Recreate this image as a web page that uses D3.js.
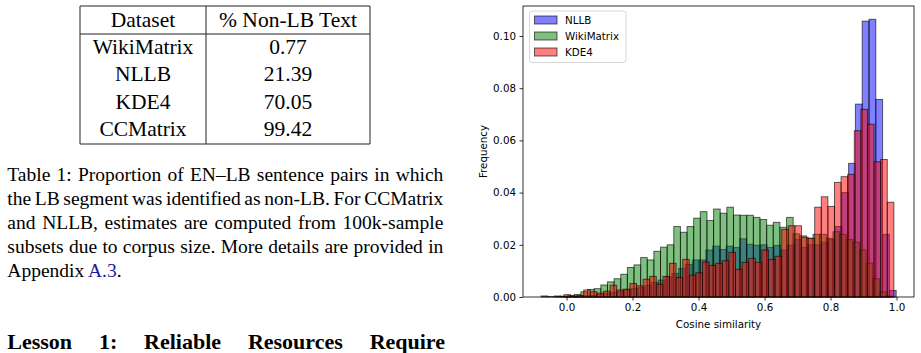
<!DOCTYPE html>
<meta charset="utf-8">
<style>
body{margin:0;background:#fff;}
svg{display:block;}
.serif{font-family:"Liberation Serif","Times New Roman",serif;fill:#000;}
.cap{font-size:19.5px;}
.cell{font-size:21.5px;text-anchor:middle;}
.head{font-size:22px;font-weight:bold;}
.grid line{stroke:#222;stroke-width:1px;}
.axis text{font-family:"DejaVu Sans";font-size:10.3px;fill:#000;}
.axis path{display:none;}
.axis line{stroke:#000;stroke-width:0.8px;}
.lbl{font-family:"DejaVu Sans";font-size:10.3px;fill:#000;}
.bars rect{stroke:#000;stroke-opacity:0.6;stroke-width:1px;fill-opacity:0.5;}
</style>
<body>
<script src="https://d3js.org/d3.v7.min.js"></script>
<script>

// table
var tableHeader=["Dataset","% Non-LB Text"];
var tableDatasets=["WikiMatrix","NLLB","KDE4","CCMatrix"];
var tableNonLB=["0.77","21.39","70.05","99.42"];

// caption + heading
var captionLines=[
 "Table 1: Proportion of EN–LB sentence pairs in which",
 "the LB segment was identified as non-LB. For CCMatrix",
 "and NLLB, estimates are computed from 100k-sample",
 "subsets due to corpus size. More details are provided in"
];
var captionLast=["Appendix ","A.3","."];
var heading="Lesson 1: Reliable Resources Require";

// histogram (relative frequency per bin)
var seriesNames=["NLLB","WikiMatrix","KDE4"];
var nllbBinStart=-0.031, nllbBinWidth=0.0206;
var nllbFreq=[0.0001,0.0001,0.0002,0.0003,0.0005,0.0007,0.0010,0.0014,0.0018,0.0022,
 0.0028,0.0033,0.0036,0.0045,0.0056,0.0065,0.0078,0.0090,0.0110,0.0125,
 0.0142,0.0142,0.0180,0.0195,0.0182,0.0195,0.0190,0.0223,0.0202,0.0198,
 0.0200,0.0190,0.0198,0.0180,0.0199,0.0220,0.0190,0.0200,0.0200,0.0210,
 0.0220,0.0270,0.0400,0.0512,0.0739,0.1057,0.1064,0.0757,0.0240,0.0025];
var wikiBinStart=-0.077, wikiBinWidth=0.0201;
var wikiFreq=[0.0004,0.0002,0.0004,0.0003,0.0006,0.0010,0.0020,0.0029,0.0032,0.0046,
 0.0058,0.0070,0.0087,0.0113,0.0123,0.0151,0.0142,0.0175,0.0191,0.0200,
 0.0270,0.0248,0.0270,0.0302,0.0327,0.0293,0.0337,0.0321,0.0344,0.0314,
 0.0313,0.0313,0.0305,0.0297,0.0275,0.0286,0.0267,0.0305,0.0242,0.0234,
 0.0225,0.0240,0.0240,0.0225,0.0250,0.0240,0.0220,0.0210,0.0180,0.0130,
 0.0070,0.0020,0.0003];
var kdeBinStart=-0.008, kdeBinWidth=0.02;
var kdeFreq=[0.0009,0.0004,0.0006,0.0027,0.0020,0.0015,0.0022,0.0045,0.0027,0.0030,
 0.0052,0.0043,0.0068,0.0079,0.0049,0.0079,0.0129,0.0075,0.0144,0.0084,
 0.0093,0.0134,0.0121,0.0129,0.0139,0.0171,0.0106,0.0133,0.0148,0.0133,
 0.0180,0.0144,0.0156,0.0259,0.0273,0.0273,0.0229,0.0225,0.0344,0.0384,
 0.0347,0.0439,0.0461,0.0470,0.0637,0.0719,0.0662,0.0518,0.0527,0.0363];
var xTicks=[0,0.2,0.4,0.6,0.8,1.0];
var yTicks=[0,0.02,0.04,0.06,0.08,0.10];

var color={"NLLB":"#0000ff","WikiMatrix":"#008000","KDE4":"#ff0000"};

var svg=d3.select("body").append("svg").attr("width",921).attr("height",353);

/* ---------- table ---------- */
var tg=svg.append("g").attr("class","grid");
var colX=[80,206,370];
[6,34,144].forEach(function(y){
	tg.append("line").attr("x1",colX[0]).attr("x2",colX[2]).attr("y1",y).attr("y2",y);
});
colX.forEach(function(x){
	tg.append("line").attr("x1",x).attr("x2",x).attr("y1",6).attr("y2",144);
});
var rowY=d3.scalePoint().domain(tableDatasets).range([54.3,135.7]);
svg.selectAll("text.h").data(tableHeader).join("text").attr("class","h serif cell")
	.attr("x",(d,i)=>(colX[i]+colX[i+1])/2).attr("y",26.7).text(d=>d);
svg.selectAll("text.c1").data(tableDatasets).join("text").attr("class","c1 serif cell")
	.attr("x",(colX[0]+colX[1])/2).attr("y",d=>rowY(d)).text(d=>d);
svg.selectAll("text.c2").data(tableNonLB).join("text").attr("class","c2 serif cell")
	.attr("x",(colX[1]+colX[2])/2).attr("y",(d,i)=>rowY(tableDatasets[i])).text(d=>d);

/* ---------- justified text ---------- */
function justify(words,x0,x1,y,cls){
	var t=svg.append("text").attr("class",cls).attr("y",y);
	var sp=t.selectAll("tspan").data(words).join("tspan").text(d=>d);
	var w=sp.nodes().map(n=>n.getComputedTextLength());
	var gap=(x1-x0-d3.sum(w))/(words.length-1);
	var x=x0;
	sp.attr("x",function(d,i){var p=x;x+=w[i]+gap;return p;});
}
captionLines.forEach(function(l,i){
	justify(l.split(" "),7.3,443.3,180.7+24*i,"serif cap");
});
var last=svg.append("text").attr("class","serif cap").attr("x",7.3).attr("y",180.7+24*4);
last.selectAll("tspan").data(captionLast).join("tspan")
	.attr("fill",(d,i)=>i==1?"#1a1aa0":"#000").style("white-space","pre").text(d=>d);
justify(heading.split(" "),7.3,445,348.5,"serif head");

/* ---------- histogram ---------- */
var x=d3.scaleLinear().domain([-0.132,1.053]).range([523,914]);
var y=d3.scaleLinear().domain([0,0.1115]).range([297,6]);

var series=[
	{name:"NLLB",start:nllbBinStart,w:nllbBinWidth,freq:nllbFreq},
	{name:"WikiMatrix",start:wikiBinStart,w:wikiBinWidth,freq:wikiFreq},
	{name:"KDE4",start:kdeBinStart,w:kdeBinWidth,freq:kdeFreq}
];
series.forEach(function(s){
	svg.append("g").attr("class","bars")
		.selectAll("rect").data(s.freq).join("rect")
		.attr("x",(d,i)=>x(s.start+i*s.w))
		.attr("width",(d,i)=>x(s.start+(i+1)*s.w)-x(s.start+i*s.w))
		.attr("y",d=>y(d))
		.attr("height",d=>y(0)-y(d))
		.attr("fill",color[s.name]);
});

svg.append("g").attr("class","axis").attr("transform","translate(0,297)")
	.call(d3.axisBottom(x).tickValues(xTicks).tickFormat(d3.format(".1f")).tickSize(3.5).tickPadding(3.5));
svg.append("g").attr("class","axis").attr("transform","translate(523,0)")
	.call(d3.axisLeft(y).tickValues(yTicks).tickFormat(d3.format(".2f")).tickSize(3.5).tickPadding(3.5));

svg.append("rect").attr("x",523).attr("y",6).attr("width",391).attr("height",291)
	.attr("fill","none").attr("stroke","#000").attr("stroke-width",0.8);

svg.append("text").attr("class","lbl").attr("text-anchor","middle")
	.attr("x",718.5).attr("y",327.5).text("Cosine similarity");
svg.append("text").attr("class","lbl").attr("text-anchor","middle")
	.attr("transform","translate(486.5,151.5) rotate(-90)").text("Frequency");

// legend
var lg=svg.append("g").attr("transform","translate(529.5,11)");
lg.append("rect").attr("width",96.5).attr("height",51.5).attr("rx",2.5)
	.attr("fill","#fff").attr("fill-opacity",0.8).attr("stroke","#ccc").attr("stroke-width",0.8);
var li=lg.selectAll(".li").data(seriesNames).join("g").attr("class","bars")
	.attr("transform",(d,i)=>"translate(0,"+(9+16*i)+")");
li.append("rect").attr("x",5).attr("y",-4).attr("width",22.5).attr("height",8)
	.attr("fill",d=>color[d]);
li.append("text").attr("class","lbl").attr("x",35.5).attr("dy","0.35em").text(d=>d);

</script>
</body>
